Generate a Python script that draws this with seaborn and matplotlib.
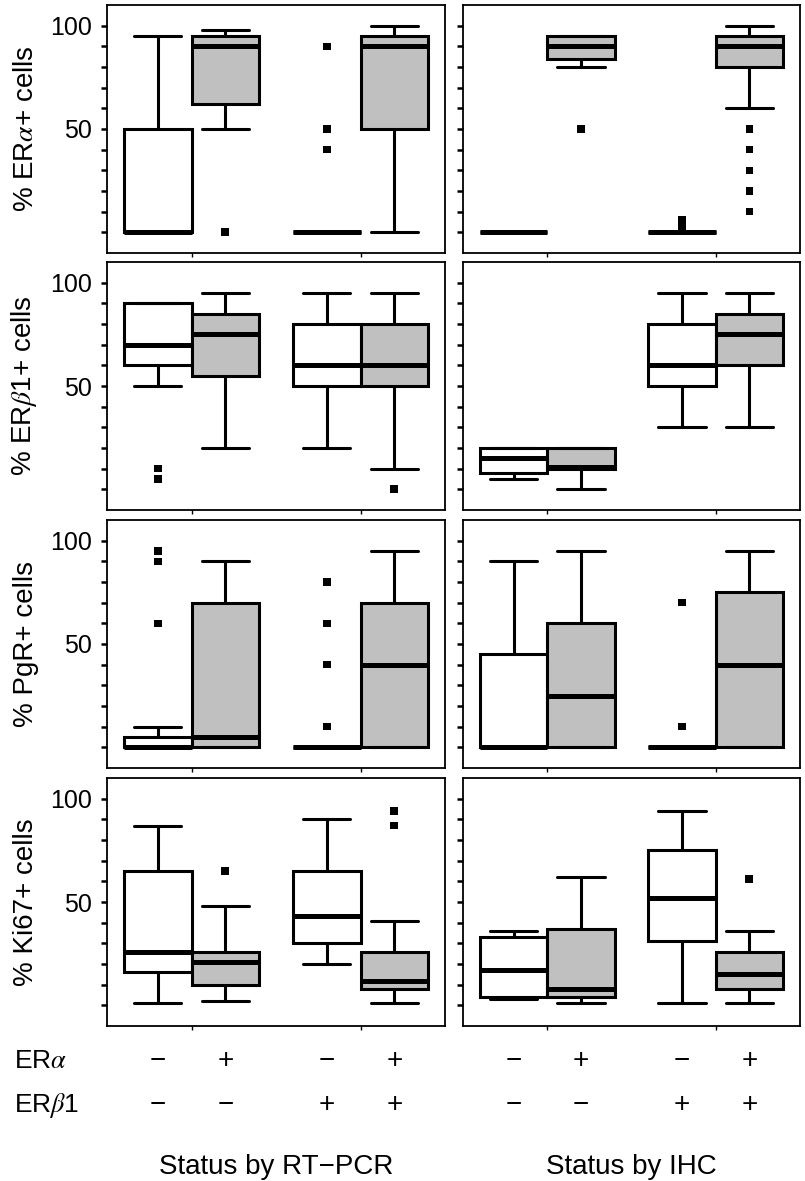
import numpy as np
import pandas as pd
import seaborn as sns
import matplotlib.pyplot as plt
from matplotlib import transforms

# Status groups
methods = ['RT\u2212PCR', 'IHC']
era_status = ['\u2212', '+', '\u2212', '+']
erb_status = ['\u2212', '\u2212', '+', '+']
order = ['\u2212', '+']

# y labels per marker
markers = ['% ER$\\alpha$+ cells', '% ER$\\beta$1+ cells', '% PgR+ cells', '% Ki67+ cells']

# five-number summaries (min, q1, median, q3, max) per box
# box order: RT-PCR (a-b-, a+b-, a-b+, a+b+) then IHC in the same order
era_boxes = [
    [0, 0, 0, 50, 95], [50, 62, 90, 95, 98], [0, 0, 0, 0, 0], [0, 50, 90, 95, 100],
    [0, 0, 0, 0, 0], [80, 84, 90, 95, 95], [0, 0, 0, 0, 0], [60, 80, 90, 95, 100],
]
era_outliers = [[], [0], [90, 50, 40], [], [], [50], [2, 4, 6], [50, 40, 30, 20, 10]]

erb_boxes = [
    [50, 60, 70, 90, 90], [20, 55, 75, 85, 95], [20, 50, 60, 80, 95], [10, 50, 60, 80, 95],
    [5, 8, 15, 20, 20], [0, 10, 11, 20, 20], [30, 50, 60, 80, 95], [30, 60, 75, 85, 95],
]
erb_outliers = [[10, 5], [], [], [0], [], [], [], []]

pgr_boxes = [
    [0, 0, 0, 5, 10], [0, 0, 5, 70, 90], [0, 0, 0, 0, 0], [0, 0, 40, 70, 95],
    [0, 0, 0, 45, 90], [0, 0, 25, 60, 95], [0, 0, 0, 0, 0], [0, 0, 40, 75, 95],
]
pgr_outliers = [[95, 90, 60], [], [80, 60, 40, 10], [], [], [], [70, 10], []]

ki67_boxes = [
    [1, 16, 26, 65, 87], [2, 10, 21, 26, 48], [20, 30, 43, 65, 90], [1, 8, 12, 26, 41],
    [3, 4, 17, 33, 36], [1, 4, 8, 37, 62], [1, 31, 52, 75, 94], [1, 8, 15, 26, 36],
]
ki67_outliers = [[], [65], [], [94, 87], [], [], [], [61]]

all_boxes = [era_boxes, erb_boxes, pgr_boxes, ki67_boxes]
all_outliers = [era_outliers, erb_outliers, pgr_outliers, ki67_outliers]

# long tables for seaborn
box_rows, out_rows = [], []
for m, (boxes, outs) in enumerate(zip(all_boxes, all_outliers)):
    for i in range(8):
        meth = methods[i // 4]
        for v in boxes[i]:
            box_rows.append((m, meth, erb_status[i % 4], era_status[i % 4], v))
        for v in outs[i]:
            out_rows.append((m, meth, erb_status[i % 4], era_status[i % 4], v))
cols = ['marker', 'method', 'erb', 'era', 'value']
box_df = pd.DataFrame(box_rows, columns=cols)
out_df = pd.DataFrame(out_rows, columns=cols)

sns.set_style('ticks')
plt.rcParams['font.family'] = ['Liberation Sans', 'DejaVu Sans']
plt.rcParams['mathtext.fontset'] = 'stix'
for key in ['text.color', 'axes.labelcolor', 'xtick.color', 'ytick.color', 'axes.edgecolor']:
    plt.rcParams[key] = 'black'

fig = plt.figure(figsize=(8.05, 11.81), dpi=100)
W, H = 805, 1181
col_left = [107, 463]
col_width = [338, 337]
row_top = [5, 262, 520, 778]
panel_h = 248
fills = {'\u2212': 'white', '+': '#c0c0c0'}

axes = {}
for r in range(4):
    for c in range(2):
        ax = fig.add_axes([col_left[c] / W, 1 - (row_top[r] + panel_h) / H,
                           col_width[c] / W, panel_h / H])
        axes[r, c] = ax
        sub = box_df[(box_df.marker == r) & (box_df.method == methods[c])]
        sns.boxplot(data=sub, x='erb', y='value', hue='era', order=order, hue_order=order,
                    palette=fills, whis=(0, 100), showfliers=False, width=0.8, gap=0,
                    linewidth=2.2, linecolor='black', medianprops={'linewidth': 3.6},
                    capwidths=0.28, legend=False, ax=ax)
        osub = out_df[(out_df.marker == r) & (out_df.method == methods[c])]
        if len(osub):
            sns.stripplot(data=osub, x='erb', y='value', hue='era', order=order,
                          hue_order=order, palette={'\u2212': 'black', '+': 'black'},
                          dodge=True, jitter=False, marker='s', size=5.5, linewidth=0,
                          legend=False, ax=ax)
        ax.set_xlim(-0.5, 1.5)
        ax.set_ylim(-10, 110)
        ax.set_xticks([0, 1])
        ax.set_xticklabels([])
        ax.set_xlabel('')
        ax.set_yticks(np.arange(0, 101, 10))
        if c == 0:
            ax.set_yticklabels(['50' if t == 50 else '100' if t == 100 else ''
                                for t in range(0, 101, 10)])
            ax.set_ylabel(markers[r], fontsize=20, labelpad=8)
        else:
            ax.set_yticklabels([])
            ax.set_ylabel('')
        ax.tick_params(axis='y', direction='out', length=4, width=1.8, labelsize=18, pad=7)
        ax.tick_params(axis='x', direction='out', length=3, width=1)
        for s in ax.spines.values():
            s.set_linewidth(1.3)
            s.set_color('black')

# status rows below the panels
for c in range(2):
    trans = transforms.blended_transform_factory(axes[3, c].transData, fig.transFigure)
    for i in range(4):
        xpos = (0 if i < 2 else 1) + (-0.2 if i % 2 == 0 else 0.2)
        fig.text(xpos, 1 - 1061 / H, era_status[i], transform=trans, ha='center',
                 va='center', fontsize=20)
        fig.text(xpos, 1 - 1105 / H, erb_status[i], transform=trans, ha='center',
                 va='center', fontsize=20)
    fig.text(0.5, 1 - 1167 / H, 'Status by ' + methods[c], transform=trans,
             ha='center', va='center', fontsize=20)

fig.text(14 / W, 1 - 1061 / H, 'ER$\\alpha$', ha='left', va='center', fontsize=19)
fig.text(14 / W, 1 - 1105 / H, 'ER$\\beta$1', ha='left', va='center', fontsize=19)

fig.savefig('out.png', dpi=100)
